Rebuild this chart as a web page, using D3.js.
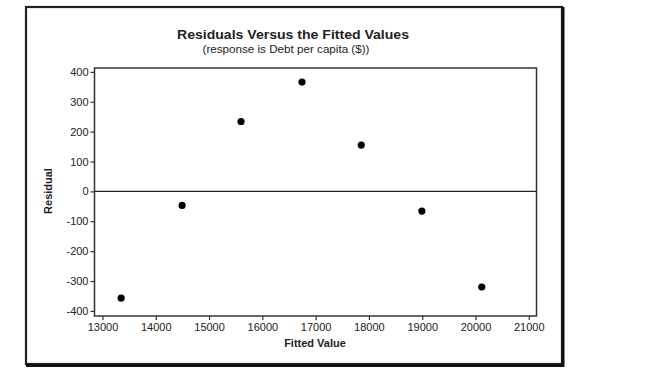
<!DOCTYPE html>
<html>
<head>
    <meta charset="utf-8">
    <title>Residuals Versus the Fitted Values</title>
    <script src="https://cdnjs.cloudflare.com/ajax/libs/d3/7.8.5/d3.min.js"></script>
    <style>
        html, body {
            margin: 0;
            padding: 0;
            background: #fff;
        }
        svg text {
            font-family: "Liberation Sans", Arial, sans-serif;
            fill: #222;
        }
    </style>
</head>
<body>
    <div id="chart"></div>
    <script>
        // values
        var fitted = [13350, 14494, 15600, 16744, 17856, 18994, 20118];
        var residuals = [-357, -47, 234, 366, 155, -66, -320];
        var xTicks = [13000, 14000, 15000, 16000, 17000, 18000, 19000, 20000, 21000];
        var yTicks = [-400, -300, -200, -100, 0, 100, 200, 300, 400];

        var width = 650, height = 373;
        var plot = { left: 94.5, top: 68, right: 536.5, bottom: 316 };

        var svg = d3.select("#chart")
            .append("svg")
            .attr("width", width)
            .attr("height", height);

        // outer frame (right and bottom edges drawn heavier, like the scan)
        svg.append("rect")
            .attr("x", 26)
            .attr("y", 7)
            .attr("width", 536)
            .attr("height", 357)
            .attr("fill", "none")
            .attr("stroke", "#222")
            .attr("stroke-width", 2.2);
        svg.append("path")
            .attr("d", "M563,7 V365.5 H26")
            .attr("fill", "none")
            .attr("stroke", "#111")
            .attr("stroke-width", 3);

        var x = d3.scaleLinear()
            .domain([12850, 21145])
            .range([plot.left, plot.right]);

        var y = d3.scaleLinear()
            .domain([-417, 413])
            .range([plot.bottom, plot.top]);

        // axes, ticks pointing out
        var xAxis = svg.append("g")
            .attr("transform", "translate(0," + plot.bottom + ")")
            .call(d3.axisBottom(x).tickValues(xTicks).tickSize(4).tickPadding(3).tickFormat(d3.format("d")));

        var yAxis = svg.append("g")
            .attr("transform", "translate(" + plot.left + ",0)")
            .call(d3.axisLeft(y).tickValues(yTicks).tickSize(4).tickPadding(2).tickFormat(d3.format("d")));

        [xAxis, yAxis].forEach(function (g) {
            g.select(".domain").remove();
            g.selectAll(".tick line").attr("stroke", "#333").attr("stroke-width", 1.2);
            g.selectAll(".tick text")
                .attr("fill", "#2a2a2a")
                .style("font-size", "11px")
                .style("font-family", "\"Liberation Sans\", Arial, sans-serif");
        });
        yAxis.selectAll(".tick text").text(function (d) { return d < 0 ? "-" + Math.abs(d) : d; });

        // plot frame
        svg.append("rect")
            .attr("x", plot.left)
            .attr("y", plot.top)
            .attr("width", plot.right - plot.left)
            .attr("height", plot.bottom - plot.top)
            .attr("fill", "none")
            .attr("stroke", "#333")
            .attr("stroke-width", 1.5);

        // zero reference line
        svg.append("line")
            .attr("x1", plot.left)
            .attr("x2", plot.right)
            .attr("y1", y(0))
            .attr("y2", y(0))
            .attr("stroke", "#222")
            .attr("stroke-width", 1.4);

        // points
        svg.append("g")
            .selectAll("circle")
            .data(fitted)
            .enter()
            .append("circle")
            .attr("cx", function (d) { return x(d); })
            .attr("cy", function (d, i) { return y(residuals[i]); })
            .attr("r", 3.6)
            .attr("fill", "#000");

        // titles
        svg.append("text")
            .attr("x", 293)
            .attr("y", 39)
            .attr("text-anchor", "middle")
            .attr("font-weight", "bold")
            .attr("font-size", "13px")
            .attr("textLength", 232)
            .attr("lengthAdjust", "spacingAndGlyphs")
            .text("Residuals Versus the Fitted Values");

        svg.append("text")
            .attr("x", 286)
            .attr("y", 53)
            .attr("text-anchor", "middle")
            .attr("font-size", "10px")
            .attr("fill", "#333")
            .attr("textLength", 167)
            .attr("lengthAdjust", "spacingAndGlyphs")
            .text("(response is Debt per capita ($))");

        svg.append("text")
            .attr("x", 315)
            .attr("y", 347)
            .attr("text-anchor", "middle")
            .attr("font-weight", "bold")
            .attr("font-size", "11px")
            .text("Fitted Value");

        svg.append("text")
            .attr("transform", "translate(52,191) rotate(-90)")
            .attr("text-anchor", "middle")
            .attr("font-weight", "bold")
            .attr("font-size", "11px")
            .text("Residual");
    </script>
</body>
</html>
